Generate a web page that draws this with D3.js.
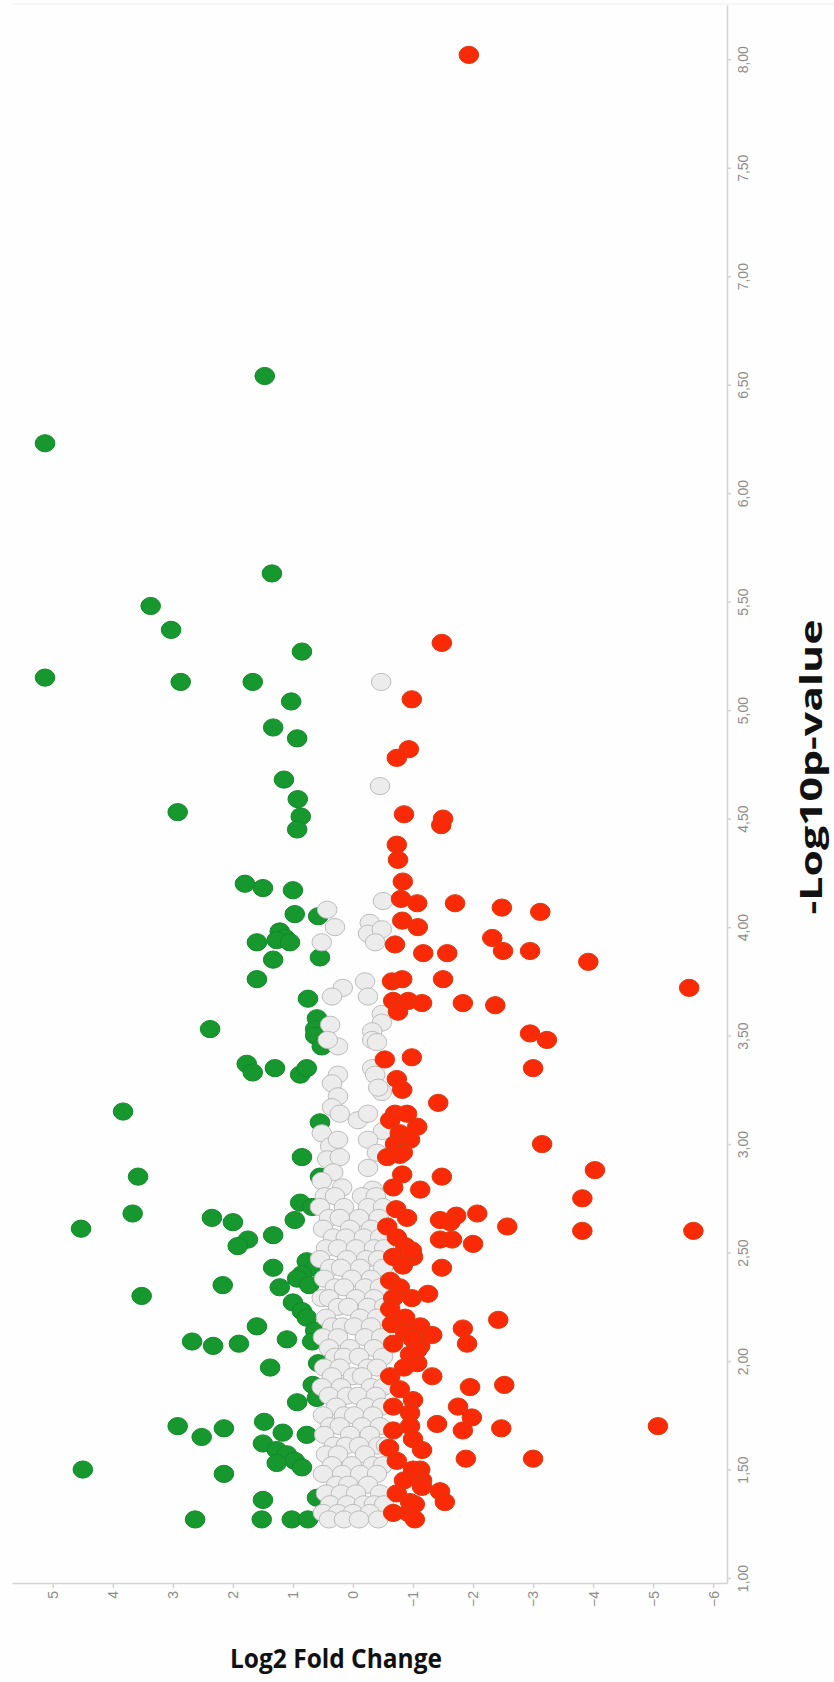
<!DOCTYPE html>
<html>
<head>
<meta charset="utf-8">
<script src="https://cdn.jsdelivr.net/npm/d3@7"></script>
<style>
	body { margin: 0; background: #fefefe; }
	svg { display: block; }
</style>
</head>
<body>
<div id="visDiv"></div>
<script>
// [log2 fold change, -log10 p]
var greenPoints = [
	[1.47,6.54],[5.13,6.23],[1.35,5.63],[3.37,5.48],[3.03,5.37],[0.85,5.27],[5.13,5.15],[2.87,5.13],[1.67,5.13],
	[1.03,5.04],[1.33,4.92],[0.93,4.87],[1.15,4.68],[2.92,4.53],[0.92,4.59],[0.87,4.51],[0.93,4.45],[1.8,4.20],
	[1.5,4.18],[1.0,4.17],[0.97,4.06],[0.58,4.05],[1.6,3.93],[1.22,3.98],[1.13,3.95],[1.27,3.94],[1.05,3.93],
	[0.55,3.86],[1.33,3.85],[1.6,3.76],[0.75,3.67],[0.6,3.58],[0.63,3.53],[0.63,3.50],[0.52,3.45],[1.77,3.37],
	[1.67,3.33],[1.3,3.35],[0.88,3.32],[0.77,3.35],[2.38,3.53],[3.83,3.15],[0.55,3.10],[0.85,2.94],[0.55,2.85],
	[3.58,2.85],[3.67,2.68],[0.88,2.73],[0.68,2.71],[0.97,2.65],[4.53,2.61],[2.35,2.66],[2.0,2.64],[1.75,2.56],
	[1.92,2.53],[1.33,2.58],[0.77,2.46],[0.63,2.43],[0.85,2.40],[0.93,2.38],[0.73,2.35],[1.33,2.43],[2.17,2.35],
	[1.22,2.34],[3.52,2.30],[1.0,2.27],[0.85,2.23],[0.77,2.20],[0.63,2.14],[1.6,2.16],[2.68,2.09],[2.33,2.07],
	[1.9,2.08],[1.1,2.10],[0.68,2.09],[1.38,1.97],[0.58,1.99],[0.67,1.89],[0.6,1.83],[0.93,1.81],[2.92,1.70],
	[2.52,1.65],[2.15,1.69],[1.48,1.72],[1.17,1.67],[0.77,1.66],[1.5,1.62],[1.27,1.59],[1.1,1.57],[0.97,1.54],
	[0.85,1.51],[1.27,1.53],[4.5,1.50],[2.15,1.48],[0.6,1.37],[1.5,1.36],[2.63,1.27],[1.52,1.27],[1.02,1.27],[0.75,1.27]
];

var redPoints = [
	[-1.93,8.02],[-1.48,5.31],[-0.98,5.05],[-0.93,4.82],[-0.73,4.78],[-0.85,4.52],[-1.5,4.50],[-1.47,4.47],
	[-0.73,4.38],[-0.75,4.31],[-0.83,4.21],[-0.8,4.13],[-3.92,3.84],[-5.6,3.72],
	[-1.07,4.11],[-1.7,4.11],[-2.48,4.09],[-3.12,4.07],[-0.82,4.03],[-1.08,4.0],[-2.32,3.95],[-2.5,3.89],
	[-0.7,3.92],[-1.17,3.88],[-1.57,3.88],[-2.95,3.89],[-1.5,3.76],[-0.65,3.75],[-0.82,3.76],[-0.67,3.66],
	[-0.92,3.66],[-1.15,3.65],[-0.75,3.61],[-1.83,3.65],[-2.37,3.64],[-2.95,3.51],[-3.23,3.48],[-0.53,3.39],
	[-0.98,3.40],[-3.0,3.35],[-0.73,3.30],[-0.82,3.25],[-0.7,3.14],[-0.9,3.14],[-1.07,3.08],[-0.62,3.11],
	[-0.78,3.05],[-0.95,3.02],[-0.7,3.00],[-0.83,2.96],[-1.42,3.19],[-3.15,3.0],[-1.12,2.79],[-1.48,2.85],
	[-4.03,2.88],[-3.82,2.75],[-2.07,2.68],[-1.72,2.67],[-1.62,2.64],[-1.45,2.65],[-2.57,2.62],[-3.82,2.60],
	[-5.67,2.60],[-1.45,2.56],[-1.65,2.56],[-2.0,2.54],[-1.48,2.43],[-2.42,2.19],[-1.83,2.15],[-1.9,2.08],
	[-1.12,2.16],[-1.32,2.12],[-1.12,2.07],[-0.95,2.03],[-1.07,1.99],[-1.32,1.93],[-1.95,1.88],[-2.52,1.89],
	[-1.75,1.79],[-1.98,1.74],[-1.83,1.68],[-2.47,1.69],[-5.08,1.70],[-1.4,1.71],[-1.15,1.59],[-1.88,1.55],
	[-3.0,1.55],[-1.12,1.50],[-1.15,1.45],[-1.15,1.42],[-1.45,1.40],[-1.53,1.35],
	[-0.78,2.95],[-0.57,2.94],[-0.82,2.86],[-0.67,2.80],[-0.57,2.62],[-0.73,2.57],[-0.87,2.53],[-1.0,2.48],
	[-0.67,2.48],[-0.83,2.44],[-0.98,2.51],[-0.62,2.37],[-0.78,2.34],[-0.98,2.29],[-0.67,2.29],[-1.25,2.31],
	[-0.87,2.20],[-0.65,2.17],[-0.87,2.13],[-1.0,2.10],[-0.67,2.08],[-1.07,2.05],[-0.62,1.93],[-0.78,1.87],
	[-1.0,1.82],[-0.67,1.79],[-0.95,1.76],[-0.67,1.68],[-0.95,1.70],[-1.0,1.64],[-0.73,1.54],[-1.0,1.50],
	[-0.73,1.39],[-0.95,1.35],[-0.67,1.30],[-0.92,1.30],[-1.03,1.34],[-1.03,1.27],
	[-0.72,2.70],[-0.9,2.66],[-0.62,2.24],[-0.85,1.97],[-0.6,1.60],[-0.85,1.45]
];

var grayPoints = [
	[-0.47,5.13],[-0.45,4.65],[-0.5,4.12],[0.43,4.08],[-0.28,4.02],[-0.25,3.97],[-0.48,3.99],[-0.37,3.93],
	[0.52,3.93],[0.3,4.0],[-0.2,3.75],[0.17,3.72],[0.35,3.68],[-0.25,3.68],[-0.48,3.60],[-0.48,3.56],[0.38,3.55],
	[0.25,3.45],[0.42,3.48],[-0.32,3.52],[-0.32,3.48],[-0.4,3.47],[0.25,3.32],[0.35,3.28],[0.25,3.22],
	[0.35,3.17],[0.22,3.14],[-0.32,3.35],[-0.37,3.32],[-0.48,3.24],[-0.42,3.26],[-0.08,3.11],[-0.25,3.14],
	[-0.5,3.06],[0.52,3.05],[0.38,2.99],[0.25,3.02],[0.43,2.93],[0.22,2.94],[0.33,2.87],[0.18,2.80],
	[0.52,2.83],[-0.25,3.02],[-0.4,2.96],[-0.25,2.89],[-0.33,2.79],
	[0.47,2.76],[0.30,2.76],[-0.15,2.76],[-0.38,2.76],[0.55,2.71],[0.15,2.71],[-0.25,2.71],[-0.50,2.71],
	[0.40,2.66],[0.22,2.66],[-0.10,2.66],[-0.43,2.66],[0.50,2.61],[0.05,2.61],[-0.30,2.61],
	[0.33,2.57],[0.12,2.57],[-0.18,2.57],[-0.45,2.57],[0.45,2.52],[0.25,2.52],[-0.05,2.52],[-0.35,2.52],[-0.52,2.52],
	[0.55,2.47],[0.10,2.47],[-0.22,2.47],[-0.42,2.47],[0.38,2.43],[0.20,2.43],[-0.12,2.43],[-0.50,2.43],
	[0.48,2.38],[0.02,2.38],[-0.30,2.38],[0.30,2.34],[0.15,2.34],[-0.20,2.34],[-0.45,2.34],
	[0.52,2.29],[0.40,2.29],[-0.05,2.29],[-0.35,2.29],[0.25,2.25],[0.08,2.25],[-0.25,2.25],[-0.52,2.25],
	[0.45,2.20],[-0.12,2.20],[-0.40,2.20],[0.35,2.16],[0.18,2.16],[-0.02,2.16],[-0.30,2.16],
	[0.50,2.11],[0.25,2.11],[-0.20,2.11],[-0.47,2.11],[0.40,2.06],[0.05,2.06],[-0.35,2.06],
	[0.30,2.02],[0.15,2.02],[-0.10,2.02],[-0.50,2.02],[0.48,1.97],[0.22,1.97],[-0.25,1.97],[-0.40,1.97],
	[0.35,1.93],[0.00,1.93],[-0.15,1.93],[0.52,1.88],[0.20,1.88],[-0.30,1.88],[-0.50,1.88],
	[0.40,1.84],[0.10,1.84],[-0.08,1.84],[-0.38,1.84],[0.28,1.79],[-0.22,1.79],[-0.48,1.79],
	[0.50,1.75],[0.15,1.75],[-0.02,1.75],[-0.33,1.75],[0.38,1.70],[0.22,1.70],[-0.15,1.70],[-0.45,1.70],
	[0.48,1.66],[0.05,1.66],[-0.28,1.66],[0.32,1.61],[0.12,1.61],[-0.10,1.61],[-0.42,1.61],[-0.55,1.61],
	[0.45,1.57],[0.25,1.57],[-0.20,1.57],[0.35,1.52],[0.02,1.52],[-0.33,1.52],[-0.50,1.52],
	[0.50,1.48],[0.18,1.48],[-0.12,1.48],[-0.40,1.48],[0.28,1.43],[0.08,1.43],[-0.25,1.43],
	[0.45,1.39],[0.20,1.39],[-0.05,1.39],[-0.45,1.39],[0.38,1.34],[0.10,1.34],[-0.18,1.34],[-0.35,1.34],[-0.52,1.34],
	[0.50,1.30],[0.25,1.30],[0.00,1.30],[-0.28,1.30],[0.40,1.27],[0.15,1.27],[-0.10,1.27],[-0.42,1.27]
];

var xTickValues = [5, 4, 3, 2, 1, 0, -1, -2, -3, -4, -5, -6];
var yTickValues = [1, 1.5, 2, 2.5, 3, 3.5, 4, 4.5, 5, 5.5, 6, 6.5, 7, 7.5, 8];

(function () {
	var w = 834, h = 1682;

	var svg = d3.select('#visDiv')
		.append('svg')
			.attr('width', w)
			.attr('height', h);

	svg.append('rect')
		.attr('width', w)
		.attr('height', h)
		.style('fill', '#fefefe');

	// faint frame line at the top of the screenshot
	svg.append('line')
		.attr('x1', 12).attr('x2', 834)
		.attr('y1', 4).attr('y2', 4)
		.style('stroke', '#eeeeee');

	// fold change runs right to left, p-value bottom to top
	var xScale = d3.scaleLinear().domain([5.68, -6.23]).range([12, 727]);
	var yScale = d3.scaleLinear().domain([0.977, 8.25]).range([1583, 5]);

	var xAxis = svg.append('g')
		.attr('transform', 'translate(0,1583)')
		.call(d3.axisBottom(xScale).tickValues(xTickValues).tickSize(5).tickSizeOuter(0)
			.tickFormat(function(d) { return d3.format('d')(d); }));

	xAxis.selectAll('text')
		.attr('transform', 'rotate(-90)')
		.attr('x', -8)
		.attr('y', 0)
		.attr('dy', '0.35em')
		.style('text-anchor', 'end');

	var yAxis = svg.append('g')
		.attr('transform', 'translate(727,0)')
		.call(d3.axisRight(yScale).tickValues(yTickValues).tickSize(4).tickSizeOuter(0)
			.tickFormat(function(d) { return d3.format('.2f')(d).replace('.', ','); }));

	yAxis.selectAll('text')
		.attr('transform', 'translate(21,0)rotate(-90)')
		.attr('x', 0)
		.attr('y', 0)
		.attr('dy', 0)
		.style('text-anchor', 'middle');

	svg.selectAll('.domain, .tick line')
		.style('stroke', '#d3d3d3')
		.style('stroke-width', 1.5);
	svg.selectAll('.tick text')
		.style('fill', '#8c8c8c')
		.style('font-family', 'Liberation Sans, Arial, sans-serif')
		.style('font-size', '14px');

	function drawDots(data, fill, stroke) {
		svg.append('g').selectAll('ellipse')
			.data(data)
			.enter()
			.append('ellipse')
				.attr('cx', function(d) { return xScale(d[0]); })
				.attr('cy', function(d) { return yScale(d[1]); })
				.attr('rx', 9.8)
				.attr('ry', 8.6)
				.style('fill', fill)
				.style('stroke', stroke)
				.style('stroke-width', 1);
	}

	drawDots(greenPoints, '#16982e', '#12882a');
	drawDots(grayPoints, '#ececec', '#bcbcbc');
	drawDots(redPoints, '#fb2a06', '#dc3a10');

	// axis titles
	svg.append('text')
		.attr('x', 230)
		.attr('y', 1668)
		.attr('textLength', 212)
		.attr('lengthAdjust', 'spacingAndGlyphs')
		.style('font-family', 'Open Sans, sans-serif')
		.style('font-weight', 'bold')
		.style('font-size', '27px')
		.style('fill', '#111')
		.text('Log2 Fold Change');

	svg.append('g')
		.attr('transform', 'translate(822,767)rotate(-90)')
		.append('text')
			.attr('x', 0)
			.attr('y', 0)
			.attr('textLength', 295)
			.attr('lengthAdjust', 'spacingAndGlyphs')
			.style('text-anchor', 'middle')
			.style('font-family', 'Open Sans, sans-serif')
			.style('font-weight', 'bold')
			.style('font-size', '31px')
			.style('fill', '#111')
			.text('-Log10p-value');
}());
</script>
</body>
</html>
